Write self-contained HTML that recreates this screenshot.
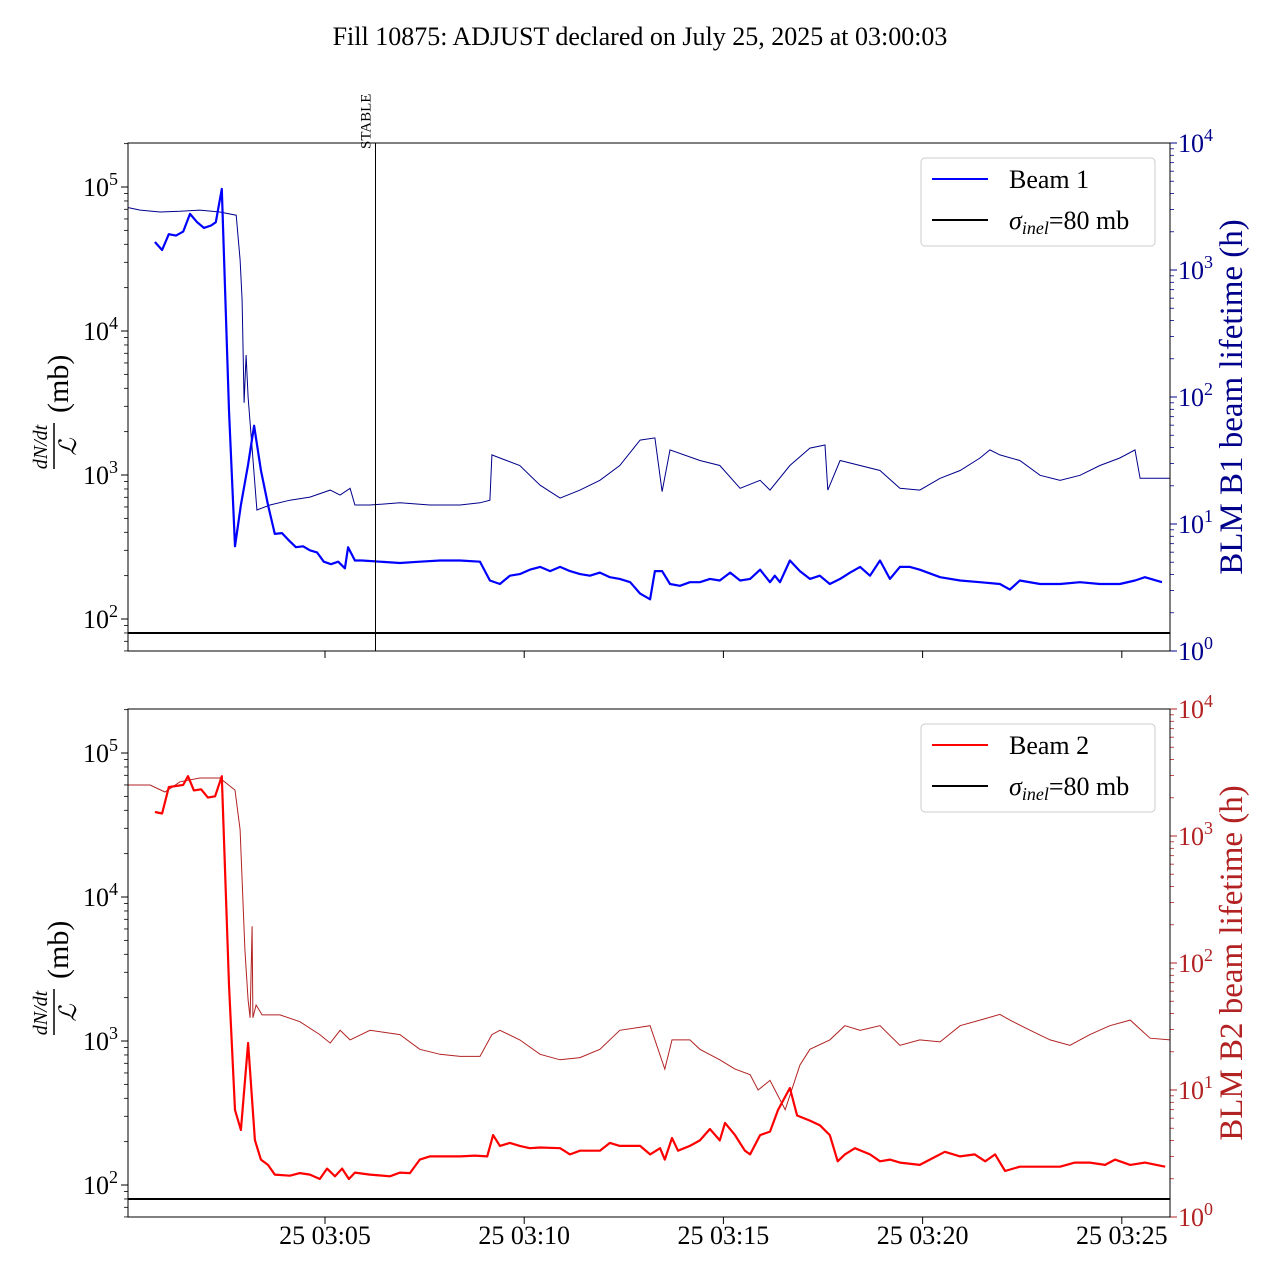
<!DOCTYPE html>
<html><head><meta charset="utf-8"><style>
body{margin:0;background:#fff}
svg{display:block;font-family:"Liberation Serif",serif}
</style></head><body>
<svg id="chart" width="1280" height="1280" viewBox="0 0 1280 1280" xmlns="http://www.w3.org/2000/svg">
<text x="640" y="45" text-anchor="middle" font-size="26">Fill 10875: ADJUST declared on July 25, 2025 at 03:00:03</text>
<defs>
<clipPath id="c0"><rect x="128" y="143" width="1042" height="508"/></clipPath>
<clipPath id="c1"><rect x="128" y="709" width="1042" height="508"/></clipPath>
</defs>
<g id="g0"></g>
<g id="g1"></g>
</svg>
<script>
// time in minutes after 03:00
const xTickMinutes = [5, 10, 15, 20, 25];
const xTickLabels = ["25 03:05", "25 03:10", "25 03:15", "25 03:20", "25 03:25"];
const sigmaInel = 80;
const stableMinute = 6.255;

const b1RateTime = [0.73,0.91,1.08,1.26,1.44,1.61,1.79,1.96,2.14,2.26,2.41,2.59,2.74,2.89,3.07,3.22,3.39,3.57,3.74,3.92,4.10,4.27,4.45,4.62,4.80,4.97,5.15,5.33,5.50,5.58,5.75,5.93,6.38,6.88,7.38,7.89,8.39,8.89,9.14,9.39,9.64,9.89,10.14,10.40,10.65,10.90,11.15,11.40,11.65,11.90,12.15,12.40,12.66,12.91,13.16,13.28,13.46,13.66,13.91,14.16,14.41,14.66,14.91,15.17,15.42,15.67,15.92,16.17,16.29,16.42,16.67,16.92,17.17,17.42,17.67,17.93,18.18,18.43,18.68,18.93,19.18,19.43,19.68,19.93,20.44,20.94,21.44,21.94,22.19,22.44,22.95,23.45,23.95,24.45,24.95,25.33,25.58,26.01];
const b1RateValues = [41500,36500,47000,46000,49000,65000,57000,52000,54000,57000,97000,2800,320,620,1180,2200,1080,620,390,395,350,315,320,300,290,250,240,250,225,315,255,255,250,245,250,255,255,250,185,175,200,205,220,230,215,230,215,205,200,210,195,190,180,150,137,215,215,175,170,180,180,190,185,210,185,190,220,180,200,180,255,215,190,200,175,190,210,230,200,255,190,230,230,220,195,185,180,175,160,185,175,175,180,175,175,185,195,180];
const b1LifeTime = [0.06,0.36,0.86,1.36,1.86,2.36,2.77,2.87,2.92,2.97,3.02,3.07,3.29,3.62,4.12,4.62,5.13,5.38,5.63,5.75,6.13,6.88,7.63,8.39,8.89,9.14,9.19,9.39,9.89,10.40,10.90,11.40,11.90,12.40,12.91,13.28,13.46,13.66,14.41,14.91,15.42,15.92,16.17,16.67,17.17,17.55,17.62,17.93,18.93,19.43,19.93,20.44,20.94,21.44,21.69,21.94,22.44,22.95,23.45,23.95,24.45,24.95,25.33,25.46,26.21];
const b1LifeValues = [3100,2960,2860,2900,2960,2860,2700,1200,580,90,214,100,12.9,14.1,15.4,16.3,18.5,16.9,19.1,14.1,14.1,14.7,14.1,14.1,14.7,15.4,35,33.1,28.9,20.2,16,18.5,22.1,28.9,45.8,47.6,18,38.3,31.6,28.9,19.1,22.1,18.5,28.9,39.6,41.9,18.5,31.6,26.4,19.1,18.5,22.9,26.4,33.1,38.3,35,31.6,24.2,22.1,24.2,28.9,33.1,38.3,22.9,22.9];

const b2RateTime = [0.73,0.91,1.08,1.26,1.44,1.56,1.71,1.89,2.06,2.24,2.41,2.59,2.74,2.89,3.07,3.24,3.39,3.57,3.74,4.12,4.37,4.62,4.87,5.05,5.25,5.43,5.60,5.75,6.13,6.63,6.88,7.13,7.38,7.63,8.01,8.39,8.76,9.07,9.22,9.39,9.64,9.89,10.14,10.40,10.90,11.15,11.40,11.90,12.15,12.40,12.91,13.16,13.41,13.53,13.71,13.86,14.16,14.41,14.66,14.91,15.04,15.29,15.54,15.67,15.92,16.17,16.37,16.67,16.85,17.17,17.42,17.67,17.87,18.05,18.30,18.68,18.93,19.18,19.43,19.93,20.18,20.56,20.94,21.31,21.57,21.82,22.07,22.44,22.95,23.45,23.82,24.20,24.58,24.83,25.21,25.58,26.09];
const b2RateValues = [38900,38000,58000,59000,60000,69000,55000,56000,49000,50000,69000,2450,332,241,968,205,150,138,118,116,121,118,110,130,115,130,110,122,118,115,122,121,150,158,158,158,160,158,222,187,196,187,180,182,180,163,173,173,196,187,187,163,180,150,212,173,187,204,245,204,270,222,173,163,222,235,332,472,304,280,260,222,146,163,180,163,146,150,143,138,150,170,158,163,146,163,125,134,134,134,143,143,138,150,138,143,134];
const b2LifeTime = [0.06,0.61,0.98,1.36,1.86,2.36,2.74,2.87,2.99,3.07,3.12,3.17,3.19,3.27,3.42,3.87,4.37,4.87,5.13,5.38,5.63,6.13,6.88,7.38,7.89,8.39,8.89,9.19,9.39,9.89,10.40,10.90,11.40,11.90,12.40,13.16,13.53,13.71,14.16,14.41,14.91,15.29,15.67,15.87,16.17,16.55,16.92,17.17,17.67,18.05,18.43,18.93,19.43,19.93,20.44,20.94,21.44,21.94,22.19,22.70,23.20,23.70,24.20,24.70,25.21,25.71,26.21];
const b2LifeValues = [2520,2520,2220,2670,2860,2860,2300,1120,127,51,37,195,37,46.7,39,39,34.5,27.3,23.4,29.5,24.8,29.5,27.3,20.9,19.1,18.4,18.4,27.3,29.5,24.8,19.1,17.3,18,20.9,29.5,32.1,14.6,24.8,24.8,20.9,17.3,14.6,13.2,10,11.9,7,15.7,20.9,24.8,32.1,29.5,32.1,22.5,24.8,23.9,32.1,35.5,39.4,35.5,29.5,24.8,22.5,27.3,32.1,35.5,25.6,24.8];

const NS = "http://www.w3.org/2000/svg";
const X0 = 128, X1 = 1170;
function xS(m){ return X0 + (m - 0.055) * 39.84; }
function mk(parent, tag, attrs, text){
  const e = document.createElementNS(NS, tag);
  for (const k in attrs) e.setAttribute(k, attrs[k]);
  if (text !== undefined) e.textContent = text;
  parent.appendChild(e);
  return e;
}
function pathFrom(ts, vs, xf, yf){
  const n = Math.min(ts.length, vs.length);
  let d = "";
  for (let i = 0; i < n; i++) d += (i ? "L" : "M") + xf(ts[i]).toFixed(1) + "," + yf(vs[i]).toFixed(1);
  return d;
}
function powLabel(parent, x, y, exp, color, anchor){
  const t = mk(parent, "text", {x: x, y: y, "font-size": 26, fill: color, "text-anchor": anchor});
  
  
  const a = document.createElementNS(NS, "tspan"); a.textContent = "10"; t.appendChild(a);
  const b = document.createElementNS(NS, "tspan"); b.setAttribute("dy", "-11"); b.setAttribute("font-size", "18"); b.textContent = String(exp); t.appendChild(b);
}

function panel(idx, cfg){
  const g = document.getElementById("g" + idx);
  const top = cfg.top, bot = top + 508;
  const yL = v => cfg.l5 - (Math.log10(v) - 5) * 144;
  const yR = v => bot - Math.log10(v) * 127;
  for (let e = 1; e <= 5; e++){
    for (let k = 1; k <= 9; k++){
      const v = k * Math.pow(10, e); const y = yL(v);
      if (y < top - 0.5 || y > bot + 0.5) continue;
      const tk = mk(g, "line", {x1: X0, x2: X0 - (k === 1 ? 7 : 4), y1: y, y2: y, stroke: "#000", "stroke-width": k === 1 ? 1 : 0.8});
      
      
      if (k === 1) powLabel(g, X0 - 10, y + 9, e, "#000", "end");
    }
  }
  for (let e = 0; e <= 4; e++){
    for (let k = 1; k <= 9; k++){
      const v = k * Math.pow(10, e); const y = yR(v);
      if (y < top - 0.5 || y > bot + 0.5) continue;
      const tk = mk(g, "line", {x1: X1, x2: X1 + (k === 1 ? 7 : 4), y1: y, y2: y, stroke: cfg.rc, "stroke-width": k === 1 ? 1 : 0.8});
      
      
      if (k === 1) powLabel(g, X1 + 8, y + 9, e, cfg.rc, "start");
    }
  }
  xTickMinutes.forEach((m, i) => {
    const x = xS(m);
    const tk = mk(g, "line", {x1: x, x2: x, y1: bot, y2: bot + 7, stroke: "#000"});
    
    
    if (cfg.labels){
      const t = mk(g, "text", {x: x, y: bot + 27, "font-size": 26, "text-anchor": "middle"}, xTickLabels[i]);
      
      
    }
  });
  const cg = mk(g, "g", {"clip-path": "url(#c" + idx + ")"});
  const lt = mk(cg, "path", {d: pathFrom(cfg.lt, cfg.lv, xS, yR), fill: "none", stroke: cfg.thin, "stroke-width": 1});
  
  
  const rt = mk(cg, "path", {d: pathFrom(cfg.rt, cfg.rv, xS, yL), fill: "none", stroke: cfg.thick, "stroke-width": 2.2, "stroke-linejoin": "round"});
  
  
  const sl = mk(cg, "line", {x1: X0, x2: X1, y1: yL(sigmaInel), y2: yL(sigmaInel), stroke: "#000", "stroke-width": 2});
  
  
  if (cfg.stable){
    const sx = Math.round(xS(stableMinute)) + 0.5;
    const vl = mk(g, "line", {x1: sx, x2: sx, y1: top, y2: bot, stroke: "#000", "stroke-width": 1});
    
    
    const st = mk(g, "text", {x: 0, y: 0, "font-size": 15, transform: "translate(" + (sx - 5) + "," + (top + 6) + ") rotate(-90)"}, "STABLE");
    
    
  }
  const fr = mk(g, "rect", {x: X0, y: top, width: X1 - X0, height: 508, fill: "none", stroke: "#000", "stroke-width": 1});
  
  
  const lg = mk(g, "g", {});
  
  
  mk(lg, "rect", {x: 921, y: top + 15, width: 234, height: 88, rx: 4, fill: "#fff", "fill-opacity": 0.8, stroke: "#ccc"});
  mk(lg, "line", {x1: 932, x2: 988, y1: top + 36, y2: top + 36, stroke: cfg.thick, "stroke-width": 2});
  const l1 = mk(lg, "text", {x: 1009, y: top + 45, "font-size": 26}, cfg.beam);
  
  
  mk(lg, "line", {x1: 932, x2: 988, y1: top + 77, y2: top + 77, stroke: "#000", "stroke-width": 2});
  const l2 = mk(lg, "text", {x: 1009, y: top + 86, "font-size": 26});
  
  
  const s1 = document.createElementNS(NS, "tspan"); s1.setAttribute("font-style", "italic"); s1.textContent = "σ"; l2.appendChild(s1);
  const s2 = document.createElementNS(NS, "tspan"); s2.setAttribute("font-style", "italic"); s2.setAttribute("font-size", "18"); s2.setAttribute("dy", "5"); s2.textContent = "inel"; l2.appendChild(s2);
  const s3 = document.createElementNS(NS, "tspan"); s3.setAttribute("dy", "-5"); s3.textContent = "=80 mb"; l2.appendChild(s3);
  const cy = top + 262;
  const ll = mk(g, "g", {transform: "translate(0," + cy + ") rotate(-90)"});
  
  
  mk(ll, "text", {x: -42, y: 47, "font-size": 20, "font-style": "italic", "text-anchor": "middle"}, "dN/dt");
  mk(ll, "line", {x1: -64, x2: -18, y1: 54, y2: 54, stroke: "#000", "stroke-width": 1.5});
  mk(ll, "text", {x: -42, y: 76, "font-size": 24, "font-style": "italic", "text-anchor": "middle"}, "ℒ");
  mk(ll, "text", {x: -8, y: 68, "font-size": 30}, "(mb)");
  const rl = mk(g, "text", {x: 0, y: 0, "font-size": 33, fill: cfg.rc, "text-anchor": "middle", transform: "translate(1242," + (top + 254) + ") rotate(-90)"}, cfg.rlabel);
  
  
}

panel(0, {top: 143, l5: 187, rc: "#00008b", thin: "#00008b", thick: "#0000ff", labels: false, stable: true,
  lt: b1LifeTime, lv: b1LifeValues, rt: b1RateTime, rv: b1RateValues, beam: "Beam 1",
  rlabel: "BLM B1 beam lifetime (h)", lifeName: "b1-lifetime-line", rateName: "b1-rate-line"});
panel(1, {top: 709, l5: 753, rc: "#b22222", thin: "#b22222", thick: "#ff0000", labels: true, stable: false,
  lt: b2LifeTime, lv: b2LifeValues, rt: b2RateTime, rv: b2RateValues, beam: "Beam 2",
  rlabel: "BLM B2 beam lifetime (h)", lifeName: "b2-lifetime-line", rateName: "b2-rate-line"});
</script>
</body></html>
